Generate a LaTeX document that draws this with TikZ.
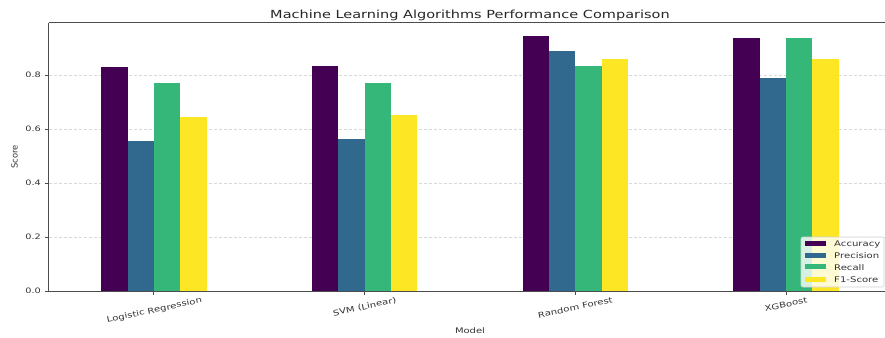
\documentclass[tikz,border=0pt]{standalone}
\usepackage{fontspec}
\setmainfont{DejaVu Sans}[FakeStretch=1.3]
\newfontfamily\plainfont{DejaVu Sans}
\usetikzlibrary{calc}

\definecolor{vacc}{HTML}{440154}
\definecolor{vprec}{HTML}{31688E}
\definecolor{vrec}{HTML}{35B779}
\definecolor{vfone}{HTML}{FDE725}
\definecolor{inkgray}{HTML}{333333}

\tikzset{
    spine/.style={black!70, line width=0.9bp},
    gridline/.style={gray!30, line width=0.6bp, dash pattern=on 3bp off 2bp},
    acc/.style={fill=vacc},
    prec/.style={fill=vprec},
    rec/.style={fill=vrec},
    fone/.style={fill=vfone},
    ytick/.style={anchor=east, inner sep=0pt, text=inkgray, font=\fontsize{7.5}{8}\selectfont},
    xtick/.style={rotate=12, inner sep=0pt, text=inkgray, font=\fontsize{7.8}{9}\selectfont},
    axislabel/.style={inner sep=0pt, text=inkgray, font=\fontsize{7.7}{9}\selectfont},
    legendtext/.style={anchor=west, inner sep=0pt, text=inkgray, text height=1.5ex, text depth=.25ex, font=\fontsize{7.8}{9}\selectfont},
}

\begin{document}
\begin{tikzpicture}[x=1bp, y=1bp]
    \clip (0,0) rectangle (885,337);

    \begin{scope}[shift={(48.6,46)}, x=210.67bp, y=270bp]
        \coordinate (O) at (0,0);
        \coordinate (Xend) at (4,0);
        \coordinate (Yend) at (0,0.993);
        \coordinate (lr) at (0.5,0);
        \coordinate (svm) at (1.5,0);
        \coordinate (rf) at (2.5,0);
        \coordinate (xgb) at (3.5,0);

        % grid
        \draw[gridline] (0,0.2) -- (4,0.2);
        \draw[gridline] (0,0.4) -- (4,0.4);
        \draw[gridline] (0,0.6) -- (4,0.6);
        \draw[gridline] (0,0.8) -- (4,0.8);

        % Logistic Regression
        \fill[acc]  (0.250,0) rectangle (0.375,0.830);
        \fill[prec] (0.375,0) rectangle (0.500,0.556);
        \fill[rec]  (0.500,0) rectangle (0.625,0.770);
        \fill[fone] (0.625,0) rectangle (0.750,0.646);
        % SVM
        \fill[acc]  (1.250,0) rectangle (1.375,0.834);
        \fill[prec] (1.375,0) rectangle (1.500,0.564);
        \fill[rec]  (1.500,0) rectangle (1.625,0.771);
        \fill[fone] (1.625,0) rectangle (1.750,0.651);
        % Random Forest
        \fill[acc]  (2.250,0) rectangle (2.375,0.946);
        \fill[prec] (2.375,0) rectangle (2.500,0.888);
        \fill[rec]  (2.500,0) rectangle (2.625,0.833);
        \fill[fone] (2.625,0) rectangle (2.750,0.858);
        % XGBoost
        \fill[acc]  (3.250,0) rectangle (3.375,0.938);
        \fill[prec] (3.375,0) rectangle (3.500,0.790);
        \fill[rec]  (3.500,0) rectangle (3.625,0.936);
        \fill[fone] (3.625,0) rectangle (3.750,0.858);

        % axes
        \draw[spine] (Yend) -- (O) -- (Xend);
        \draw[spine] (Yend) -- (4,0.993);

        \draw[spine] (lr) -- ++(0,-3.5bp);
        \draw[spine] (svm) -- ++(0,-3.5bp);
        \draw[spine] (rf) -- ++(0,-3.5bp);
        \draw[spine] (xgb) -- ++(0,-3.5bp);

        \draw[spine] (0,0) -- ++(-3.5bp,0);
        \draw[spine] (0,0.2) -- ++(-3.5bp,0);
        \draw[spine] (0,0.4) -- ++(-3.5bp,0);
        \draw[spine] (0,0.6) -- ++(-3.5bp,0);
        \draw[spine] (0,0.8) -- ++(-3.5bp,0);

        \node[ytick] (y0) at ([xshift=-7.6bp]0,0) {0.0};
        \node[ytick] (y2) at ([xshift=-7.6bp]0,0.2) {0.2};
        \node[ytick] (y4) at ([xshift=-7.6bp]0,0.4) {0.4};
        \node[ytick] (y6) at ([xshift=-7.6bp]0,0.6) {0.6};
        \node[ytick] (y8) at ([xshift=-7.6bp]0,0.8) {0.8};

        \node[xtick] (lrlab) at ([xshift=0.5bp, yshift=-19.5bp]lr) {Logistic Regression};
        \node[xtick] (svmlab) at ([yshift=-16bp]svm) {SVM (Linear)};
        \node[xtick] (rflab) at ([yshift=-16.5bp]rf) {Random Forest};
        \node[xtick] (xgblab) at ([yshift=-13.5bp]xgb) {XGBoost};
    \end{scope}

    \node[axislabel, anchor=base] (xlabel) at (470,3.5) {Model};
    \node[axislabel, rotate=90, font=\plainfont\fontsize{8.4}{9}\selectfont] (ylabel) at (14.5,180) {Score};
    \node[inner sep=0pt, anchor=base, text=black!85, font=\fontsize{11.2}{13}\selectfont] (title) at (470,318.5) {Machine Learning Algorithms Performance Comparison};

    % legend
    \draw[gray!35, fill=white, fill opacity=0.8, rounded corners=2bp, line width=0.6bp] (801,50) rectangle (884,100);
    \fill[acc]  (804.5,91.2) rectangle (825.5,96.2);
    \fill[prec] (804.5,79.5) rectangle (825.5,84.5);
    \fill[rec]  (804.5,67.8) rectangle (825.5,72.8);
    \fill[fone] (804.5,55.2) rectangle (825.5,60.2);
    \node[legendtext] (lacc) at (834,93.7) {Accuracy};
    \node[legendtext] (lprec) at (834,82) {Precision};
    \node[legendtext] (lrec) at (834,70.3) {Recall};
    \node[legendtext] (lfone) at (834,57.7) {F1-Score};
\end{tikzpicture}
\end{document}
